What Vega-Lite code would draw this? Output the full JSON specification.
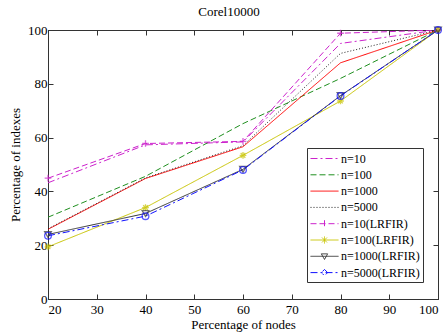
{
  "$schema": "https://vega.github.io/schema/vega-lite/v6.json",
  "width": 390,
  "height": 269,
  "autosize": {"type": "none"},
  "padding": {"left": 48, "top": 30, "right": 10, "bottom": 34},
  "background": "white",
  "config": {
    "font": "Liberation Serif",
    "view": {"stroke": "#333333", "strokeWidth": 1},
    "axis": {
      "labelFont": "Liberation Serif",
      "titleFont": "Liberation Serif",
      "labelFontSize": 13,
      "titleFontSize": 13,
      "titleFontWeight": "normal",
      "labelColor": "#000",
      "titleColor": "#000",
      "domainColor": "#333333",
      "tickColor": "#333333",
      "grid": false
    }
  },
  "title": {
    "text": "Corel10000",
    "font": "Liberation Serif",
    "fontSize": 13,
    "fontWeight": "normal",
    "color": "#000",
    "offset": 5,
    "dx": -14
  },
  "data": {
    "values": [
      {"series": "n=10", "x": 20, "y": 43.2},
      {"series": "n=10", "x": 40, "y": 57.3},
      {"series": "n=10", "x": 60, "y": 58.4},
      {"series": "n=10", "x": 80, "y": 95},
      {"series": "n=10", "x": 100, "y": 100},
      {"series": "n=100", "x": 20, "y": 30.4},
      {"series": "n=100", "x": 40, "y": 45.6},
      {"series": "n=100", "x": 60, "y": 65.2},
      {"series": "n=100", "x": 80, "y": 82},
      {"series": "n=100", "x": 100, "y": 100},
      {"series": "n=1000", "x": 20, "y": 25.9},
      {"series": "n=1000", "x": 40, "y": 44.8},
      {"series": "n=1000", "x": 60, "y": 56.6},
      {"series": "n=1000", "x": 80, "y": 87.8},
      {"series": "n=1000", "x": 100, "y": 100},
      {"series": "n=5000", "x": 20, "y": 26.1},
      {"series": "n=5000", "x": 40, "y": 45},
      {"series": "n=5000", "x": 60, "y": 57},
      {"series": "n=5000", "x": 80, "y": 91.3},
      {"series": "n=5000", "x": 100, "y": 100},
      {"series": "n=10(LRFIR)", "x": 20, "y": 44.9},
      {"series": "n=10(LRFIR)", "x": 40, "y": 57.8},
      {"series": "n=10(LRFIR)", "x": 60, "y": 58.6},
      {"series": "n=10(LRFIR)", "x": 80, "y": 98.8},
      {"series": "n=10(LRFIR)", "x": 100, "y": 100},
      {"series": "n=100(LRFIR)", "x": 20, "y": 19.4},
      {"series": "n=100(LRFIR)", "x": 40, "y": 34},
      {"series": "n=100(LRFIR)", "x": 60, "y": 53.4},
      {"series": "n=100(LRFIR)", "x": 80, "y": 73.6},
      {"series": "n=100(LRFIR)", "x": 100, "y": 100},
      {"series": "n=1000(LRFIR)", "x": 20, "y": 24},
      {"series": "n=1000(LRFIR)", "x": 40, "y": 31.8},
      {"series": "n=1000(LRFIR)", "x": 60, "y": 48.2},
      {"series": "n=1000(LRFIR)", "x": 80, "y": 75.6},
      {"series": "n=1000(LRFIR)", "x": 100, "y": 100},
      {"series": "n=5000(LRFIR)", "x": 20, "y": 23.5},
      {"series": "n=5000(LRFIR)", "x": 40, "y": 30.8},
      {"series": "n=5000(LRFIR)", "x": 60, "y": 48},
      {"series": "n=5000(LRFIR)", "x": 80, "y": 75.5},
      {"series": "n=5000(LRFIR)", "x": 100, "y": 100}
    ]
  },
  "resolve": {"axis": {"x": "independent", "y": "independent"}},
  "layer": [
    {
      "mark": {"type": "line", "clip": true},
      "encoding": {
        "x": {
          "field": "x", "type": "quantitative",
          "scale": {"domain": [20, 100], "nice": false, "zero": false},
          "axis": {"title": "Percentage of nodes", "values": [20, 30, 40, 50, 60, 70, 80, 90, 100], "tickSize": -5, "labelPadding": 9, "titlePadding": 2, "orient": "bottom"}
        },
        "y": {
          "field": "y", "type": "quantitative",
          "scale": {"domain": [0, 100], "nice": false},
          "axis": {"title": "Percentage of indexes", "values": [0, 20, 40, 60, 80, 100], "tickSize": -5, "labelPadding": 6, "titlePadding": 5, "orient": "left"}
        },
        "color": {
          "field": "series", "type": "nominal",
          "scale": {
            "domain": ["n=10", "n=100", "n=1000", "n=5000", "n=10(LRFIR)", "n=100(LRFIR)", "n=1000(LRFIR)", "n=5000(LRFIR)"],
            "range": ["#cc22cc", "#1f8f1f", "#ff0000", "#222222", "#cc22cc", "#c8c400", "#333333", "#1010ff"]
          },
          "legend": {
            "title": null,
            "orient": "none",
            "legendX": 259,
            "legendY": 118,
            "fillColor": "white",
            "strokeColor": "#333333",
            "padding": 3,
            "labelFont": "Liberation Serif",
            "labelFontSize": 12,
            "labelColor": "#000",
            "symbolSize": 196,
            "symbolStrokeWidth": 1,
            "rowPadding": 2.3,
            "labelOffset": 16,
            "encode": {
              "symbols": {
                "update": {
                  "fill": {"value": "transparent"},
                  "shape": {"signal": "datum.value == 'n=10(LRFIR)' ? 'M-1,0H3M1,-0.5V0.5' : datum.value == 'n=100(LRFIR)' ? 'M-1,0H3M1,-0.5V0.5M0.65,-0.35L1.35,0.35M0.65,0.35L1.35,-0.35' : datum.value == 'n=1000(LRFIR)' ? 'M-1,0H3M0.55,-0.35H1.45L1,0.45Z' : datum.value == 'n=5000(LRFIR)' ? 'M-1,0H3M1,-0.45L1.45,0L1,0.45L0.55,0Z' : 'M-1,0H3'"}
                }
              }
            }
          }
        },
        "strokeDash": {
          "field": "series", "type": "nominal",
          "scale": {
            "domain": ["n=10", "n=100", "n=1000", "n=5000", "n=10(LRFIR)", "n=100(LRFIR)", "n=1000(LRFIR)", "n=5000(LRFIR)"],
            "range": [[7, 3, 2, 3], [6, 3], [1, 0], [1, 2], [6, 3], [1, 0], [1, 0], [7, 3, 2, 3]]
          },
          "legend": null
        },
        "strokeWidth": {
          "field": "series", "type": "nominal",
          "scale": {
            "domain": ["n=10", "n=100", "n=1000", "n=5000", "n=10(LRFIR)", "n=100(LRFIR)", "n=1000(LRFIR)", "n=5000(LRFIR)"],
            "range": [1, 1, 1.2, 1.2, 2, 1.2, 1.2, 2]
          },
          "legend": null
        }
      }
    },
    {
      "transform": [{"filter": "indexof(datum.series, 'LRFIR') >= 0"}],
      "mark": {"type": "point", "filled": false, "size": 45, "strokeWidth": 1.3},
      "encoding": {
        "x": {
          "field": "x", "type": "quantitative",
          "axis": {"orient": "top", "title": null, "labels": false, "values": [20, 30, 40, 50, 60, 70, 80, 90, 100], "tickSize": -5}
        },
        "y": {
          "field": "y", "type": "quantitative",
          "axis": {"orient": "right", "title": null, "labels": false, "values": [0, 20, 40, 60, 80, 100], "tickSize": -5}
        },
        "color": {"field": "series", "type": "nominal", "legend": null},
        "shape": {
          "field": "series", "type": "nominal",
          "scale": {
            "domain": ["n=10(LRFIR)", "n=100(LRFIR)", "n=1000(LRFIR)", "n=5000(LRFIR)"],
            "range": ["M-1,0H1M0,-1V1", "M-1,0H1M0,-1V1M-0.7,-0.7L0.7,0.7M-0.7,0.7L0.7,-0.7", "triangle-down", "circle"]
          },
          "legend": null
        }
      }
    }
  ]
}
